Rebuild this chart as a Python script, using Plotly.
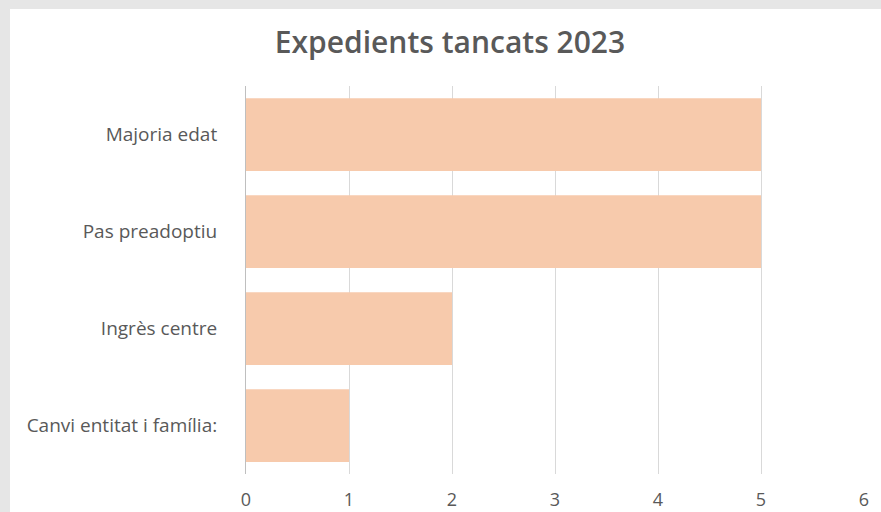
import plotly.graph_objects as go

categories = ["Majoria edat", "Pas preadoptiu", "Ingrès centre", "Canvi entitat i família:"]
values = [5, 5, 2, 1]
x_ticks = [0, 1, 2, 3, 4, 5, 6]

W, H = 881, 512
L, R, T, B = 246, 17, 86, 38
pw, ph = W - L - R, H - T - B

def px_to_paper_x(px):
    return (px - L) / pw

def py_to_paper_y(py):
    return (H - B - py) / ph

fig = go.Figure(go.Bar(
    x=values, y=categories, orientation="h",
    marker=dict(color="#F7CAAC", line=dict(width=0)),
    hoverinfo="skip",
))

fig.update_layout(
    width=W, height=H,
    margin=dict(l=L, r=R, t=T, b=B),
    paper_bgcolor="#e6e6e6",
    plot_bgcolor="white",
    bargap=0.25,
    showlegend=False,
    title=dict(text="Expedients tancats 2023", x=450 / W, xref="container", xanchor="center",
               y=1 - 42 / H, yref="container", yanchor="middle",
               font=dict(family="Open Sans", size=30, color="#595959", weight=600)),
    font=dict(family="Open Sans", color="#595959"),
    shapes=[dict(type="rect", xref="paper", yref="paper",
                 x0=px_to_paper_x(10), x1=px_to_paper_x(W + 5),
                 y0=py_to_paper_y(9), y1=py_to_paper_y(H + 5),
                 fillcolor="white", line=dict(width=0), layer="below")],
)

fig.update_xaxes(range=[0, 6], tickvals=x_ticks, showgrid=True, gridcolor="#d9d9d9", gridwidth=1,
                 zeroline=False, showline=False, ticks="outside", ticklen=9, tickcolor="rgba(0,0,0,0)",
                 tickfont=dict(size=18, color="#595959"), fixedrange=True, automargin=False)
fig.update_yaxes(autorange="reversed", showgrid=False, showline=True, linecolor="#bfbfbf", linewidth=1,
                 ticks="outside", ticklen=24, tickcolor="rgba(0,0,0,0)",
                 tickfont=dict(size=19, color="#595959"), fixedrange=True, automargin=False)

fig.write_html("out.html", config={"displayModeBar": False},
               post_script="document.body.style.margin='0';document.body.style.padding='0';")
